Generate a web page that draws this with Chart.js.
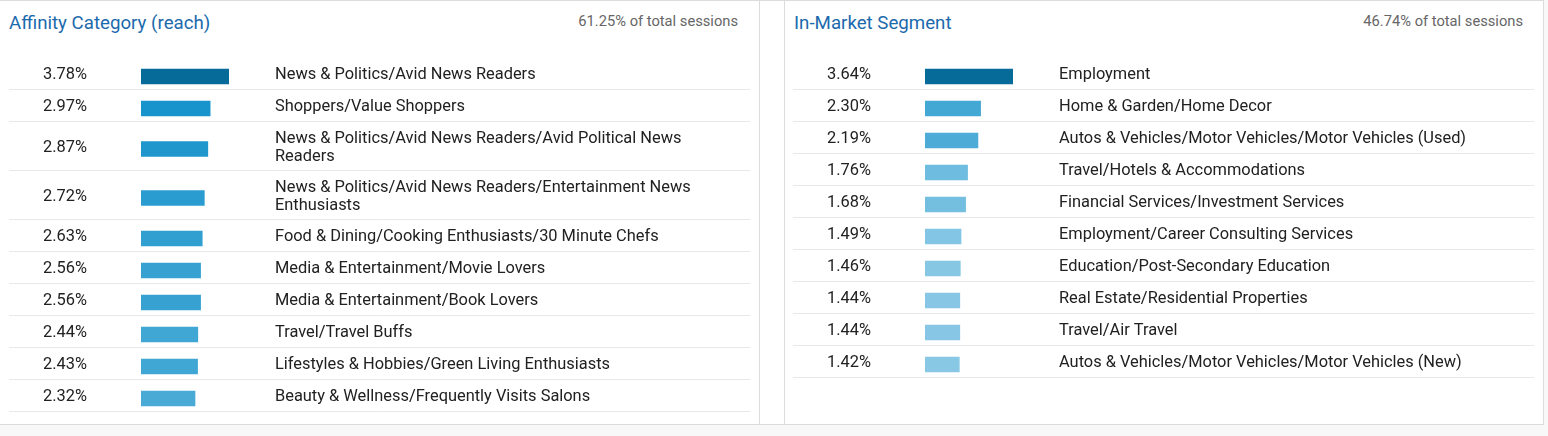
<!DOCTYPE html>
<html>
<head>
<meta charset="utf-8">
<script src="https://cdn.jsdelivr.net/npm/chart.js@4"></script>
<style>
  body { margin: 0; background: #f8f8f8; font-family: Roboto, "Open Sans", sans-serif; }
  #wrap { position: absolute; left: 0; top: 0; width: 1543px; height: 423px; background: #fff;
          border-top: 1px solid #dcdcdc; border-bottom: 1px solid #dcdcdc; border-right: 1px solid #dcdcdc; }
  .panel { position: absolute; top: 0; height: 423px; }
  #p1 { left: 0; width: 759px; border-right: 1px solid #dcdcdc; }
  #p2 { left: 784px; width: 758px; border-left: 1px solid #dcdcdc; }
  .title { position: absolute; top: 11px; font-size: 18.7px; color: #1c6aad; }
  .sub { position: absolute; top: 11px; font-size: 14.7px; color: #666; }
  canvas { position: absolute; left: 0; top: 0; }
  #p2 canvas { left: -1px; }
</style>
</head>
<body>
<div id="wrap">
  <div class="panel" id="p1">
    <div class="title" style="left:9px">Affinity Category (reach)</div>
    <div class="sub" style="right:21px">61.25% of total sessions</div>
    <canvas id="c1"></canvas>
  </div>
  <div class="panel" id="p2">
    <div class="title" style="left:9px">In-Market Segment</div>
    <div class="sub" style="right:20px">46.74% of total sessions</div>
    <canvas id="c2"></canvas>
  </div>
</div>
<script>
(() => {

//----- Data -----//

  var affinityLabels = [
    'News & Politics/Avid News Readers',
    'Shoppers/Value Shoppers',
    ['News & Politics/Avid News Readers/Avid Political News', 'Readers'],
    ['News & Politics/Avid News Readers/Entertainment News', 'Enthusiasts'],
    'Food & Dining/Cooking Enthusiasts/30 Minute Chefs',
    'Media & Entertainment/Movie Lovers',
    'Media & Entertainment/Book Lovers',
    'Travel/Travel Buffs',
    'Lifestyles & Hobbies/Green Living Enthusiasts',
    'Beauty & Wellness/Frequently Visits Salons'
  ]
  var affinityValues = [3.78, 2.97, 2.87, 2.72, 2.63, 2.56, 2.56, 2.44, 2.43, 2.32]

  var marketLabels = [
    'Employment',
    'Home & Garden/Home Decor',
    'Autos & Vehicles/Motor Vehicles/Motor Vehicles (Used)',
    'Travel/Hotels & Accommodations',
    'Financial Services/Investment Services',
    'Employment/Career Consulting Services',
    'Education/Post-Secondary Education',
    'Real Estate/Residential Properties',
    'Travel/Air Travel',
    'Autos & Vehicles/Motor Vehicles/Motor Vehicles (New)'
  ]
  var marketValues = [3.64, 2.30, 2.19, 1.76, 1.68, 1.49, 1.46, 1.44, 1.44, 1.42]

//----- Helpers -----//

  // row height in scale units: one text line = 32, two lines = 49
  function rowSize(label) {
    var lines = Array.isArray(label) ? label.length : 1
    return 15 + 17 * lines
  }

  function barColor(v, max) {
    if (v === max) return '#066b99'
    var r = v / max - 0.39
    var R = Math.round(137 - r * 287)
    var G = Math.round(200 - r * 132)
    var B = Math.round(229 - r * 65)
    return 'rgb(' + R + ',' + G + ',' + B + ')'
  }

  const rowsPlugin = {
    id: 'rows',
    afterDatasetsDraw(chart) {
      var ctx = chart.ctx
      var y = chart.scales.y
      var meta = chart.getDatasetMeta(0)
      var labels = chart.data.labels
      var values = chart.data.datasets[0].data
      var bounds = chart.options.plugins.rows.bounds
      ctx.save()
      // separators
      ctx.strokeStyle = '#e8e8e8'
      ctx.lineWidth = 1
      for (var i = 1; i < bounds.length; i++) {
        var py = Math.round(y.getPixelForValue(bounds[i]) - 3.5) + 0.5
        ctx.beginPath()
        ctx.moveTo(9, py)
        ctx.lineTo(750, py)
        ctx.stroke()
      }
      ctx.fillStyle = '#212121'
      ctx.font = '16.4px Roboto'
      ctx.textBaseline = 'middle'
      meta.data.forEach((bar, i) => {
        var cy = bar.y - 1.5
        ctx.textAlign = 'right'
        ctx.fillText(values[i].x.toFixed(2) + '%', 87, cy)
        ctx.textAlign = 'left'
        var lab = labels[i]
        if (Array.isArray(lab)) {
          lab.forEach((line, k) => {
            ctx.fillText(line, 275, cy + (k - (lab.length - 1) / 2) * 18)
          })
        } else {
          ctx.fillText(lab, 275, cy)
        }
      })
      ctx.restore()
    }
  }

//----- Create Chart -----//

  function makeChart(id, labels, values) {
    var bounds = [0]
    var centers = []
    labels.forEach((l) => {
      var start = bounds[bounds.length - 1]
      centers.push(start + rowSize(l) / 2)
      bounds.push(start + rowSize(l))
    })
    var total = bounds[bounds.length - 1]
    var max = Math.max(...values)
    var canvas = document.getElementById(id)
    canvas.width = 759
    canvas.height = 423
    return new Chart(canvas, {
      type: 'bar',
      data: {
        labels: labels,
        datasets: [{
          data: values.map((v, i) => ({ x: v, y: centers[i] })),
          backgroundColor: values.map((v) => barColor(v, max)),
          barThickness: 15
        }]
      },
      options: {
        indexAxis: 'y',
        responsive: false,
        animation: false,
        layout: { padding: { left: 141, right: 759 - 229, top: 59.5, bottom: 423 - 59.5 - total } },
        scales: {
          x: { type: 'linear', min: 0, max: max, display: false },
          y: { type: 'linear', min: 0, max: total, reverse: true, offset: false, display: false }
        },
        plugins: {
          legend: { display: false },
          tooltip: { enabled: false },
          rows: { bounds: bounds }
        }
      },
      plugins: [rowsPlugin]
    })
  }

  makeChart('c1', affinityLabels, affinityValues)
  makeChart('c2', marketLabels, marketValues)

})();
</script>
</body>
</html>
